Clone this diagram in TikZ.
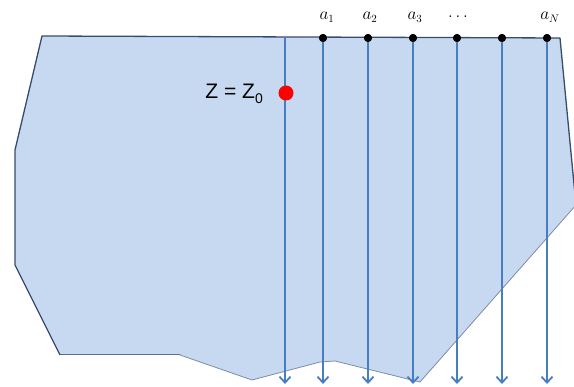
\documentclass[tikz,border=0pt]{standalone}
\usepackage{fontspec}
\newfontfamily\arialf{Liberation Sans}
\usetikzlibrary{arrows.meta}
\definecolor{regionfill}{RGB}{198,217,240}
\definecolor{edgedark}{RGB}{55,75,110}
\definecolor{edgelight}{RGB}{125,140,165}
\definecolor{arrowblue}{RGB}{70,125,195}
\begin{document}
\begin{tikzpicture}[x=1pt,y=-1pt,
  dot/.style={circle,fill=black,inner sep=0pt,minimum size=8pt},
  reddot/.style={circle,fill=red,inner sep=0pt,minimum size=15pt},
  flow/.style={draw=arrowblue,line width=1.8pt,-{Straight Barb[length=6pt,width=11pt]}},
  lbl/.style={font=\fontsize{16}{16}\selectfont,inner sep=0pt},
  zlbl/.style={font=\arialf\fontsize{21}{21}\selectfont,inner sep=0pt}]
\useasboundingbox (0,0) rectangle (574,387);
% region
\fill[regionfill] (42,36) -- (560,38) -- (576,205) -- (420,382) -- (335,361) -- (320,362) -- (252,380) -- (180,355) -- (60,355) -- (15,265) -- (15,150) -- cycle;
\draw[edgelight,line width=0.8pt] (576,205) -- (420,382) -- (335,361) -- (320,362) -- (252,380) -- (180,355);
\draw[edgedark!80!white,line width=1pt] (180,355) -- (60,355);
\draw[edgedark,line width=1.3pt,line join=round] (60,355) -- (15,265) -- (15,150) -- (42,36) -- (560,38) -- (576,205);
% start/end points
\coordinate (t0) at (285,38);
\node[dot] (d1) at (323,38) {};
\node[dot] (d2) at (368,38) {};
\node[dot] (d3) at (413,38) {};
\node[dot] (d4) at (457,38) {};
\node[dot] (d5) at (502,38) {};
\node[dot] (d6) at (547,38) {};
\coordinate (e0) at (285,384);
\coordinate (e1) at (323,384);
\coordinate (e2) at (368,384);
\coordinate (e3) at (413,384);
\coordinate (e4) at (457,384);
\coordinate (e5) at (502,384);
\coordinate (e6) at (547,384);
% arrows
\draw[flow] (t0) -- (e0);
\draw[flow] (d1.center) -- (e1);
\draw[flow] (d2.center) -- (e2);
\draw[flow] (d3.center) -- (e3);
\draw[flow] (d4.center) -- (e4);
\draw[flow] (d5.center) -- (e5);
\draw[flow] (d6.center) -- (e6);
\node[dot] at (d1) {};
\node[dot] at (d2) {};
\node[dot] at (d3) {};
\node[dot] at (d4) {};
\node[dot] at (d5) {};
\node[dot] at (d6) {};
% labels
\node[lbl] (l1) at (327,17) {$a_1$};
\node[lbl] (l2) at (370,17) {$a_2$};
\node[lbl] (l3) at (415,17) {$a_3$};
\node[lbl] (l4) at (458,17) {$\dots$};
\node[lbl] (l6) at (550,17) {$a_N$};
% Z = Z0
\node[reddot] (z0) at (286,93) {};
\node[zlbl,anchor=east] (zl) at (263,94) {Z = Z\raisebox{-5pt}{\fontsize{14}{14}\selectfont 0}};
\end{tikzpicture}
\end{document}
